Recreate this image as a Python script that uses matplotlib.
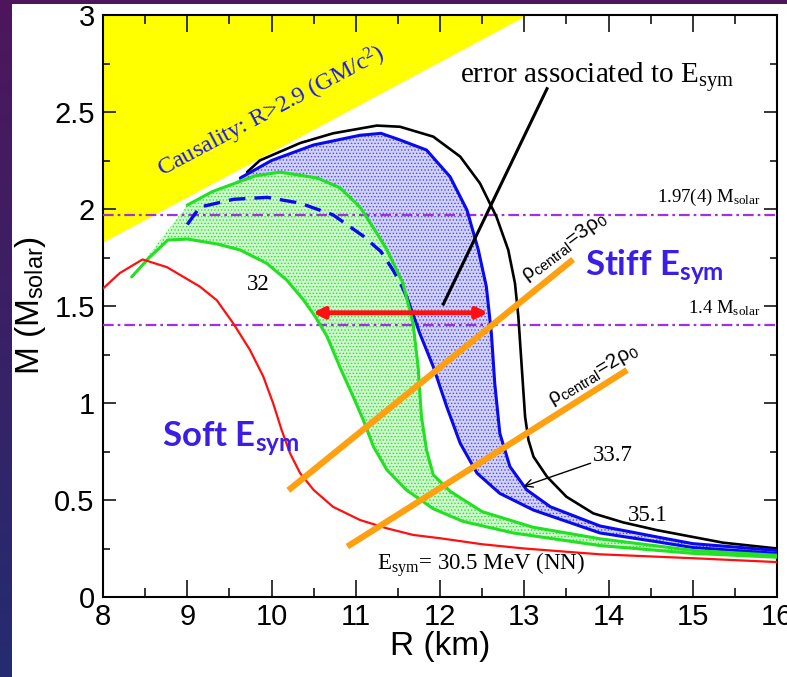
import numpy as np
import matplotlib
matplotlib.use('Agg')
import matplotlib.pyplot as plt
from matplotlib.patches import Rectangle

plt.rcParams['mathtext.fontset'] = 'custom'
plt.rcParams['mathtext.rm'] = 'Liberation Serif'
plt.rcParams['mathtext.it'] = 'Liberation Serif:italic'
plt.rcParams['mathtext.sf'] = 'Liberation Sans'
plt.rcParams['mathtext.bf'] = 'Lato:bold'
plt.rcParams['font.family'] = ['Liberation Sans', 'DejaVu Sans']
plt.rcParams['hatch.linewidth'] = 0.6

# ---------------- data ----------------
causal_R = [8.0, 13.03]
causal_M = [1.83, 3.0]

red_R = [8.0, 8.2, 8.47, 8.76, 9.15, 9.35, 9.547, 9.745, 9.903, 10.02, 10.12, 10.22, 10.34, 10.5,
         10.73, 11.05, 11.37, 11.68, 12.0, 12.5, 13.0, 13.9, 15.0, 16.0]
red_M = [1.59, 1.67, 1.74, 1.70, 1.60, 1.53, 1.41, 1.273, 1.136, 0.998, 0.861, 0.741, 0.638, 0.552,
         0.465, 0.397, 0.354, 0.32, 0.303, 0.272, 0.25, 0.22, 0.20, 0.18]

green_lo_R = [8.34, 8.55, 8.77, 9.0, 9.35, 9.626, 9.943, 10.18, 10.38, 10.52, 10.66, 10.81, 10.97,
              11.09, 11.21, 11.37, 11.6, 11.92, 12.27, 12.87, 13.9, 15.0, 16.0]
green_lo_M = [1.65, 1.75, 1.84, 1.845, 1.82, 1.789, 1.72, 1.634, 1.531, 1.445, 1.342, 1.187, 1.032,
              0.912, 0.775, 0.655, 0.552, 0.455, 0.39, 0.33, 0.265, 0.225, 0.205]

green_hi_R = [9.0, 9.3, 9.55, 9.8, 10.1, 10.54, 10.81, 11.05, 11.2, 11.37, 11.56, 11.68, 11.74,
              11.78, 11.84, 11.92, 12.12, 12.5, 13.1, 13.9, 15.0, 16.0]
green_hi_M = [2.02, 2.09, 2.13, 2.17, 2.19, 2.16, 2.11, 2.01, 1.91, 1.79, 1.617, 1.411, 1.187,
              0.929, 0.758, 0.63, 0.545, 0.44, 0.36, 0.30, 0.24, 0.215]

blue_dash_R = [9.0, 9.15, 9.55, 9.95, 10.34, 10.73, 11.09, 11.3, 11.45, 11.55, 11.62]
blue_dash_M = [1.92, 2.01, 2.05, 2.06, 2.03, 1.97, 1.86, 1.78, 1.68, 1.60, 1.53]

blue_lo_R = [11.62, 11.76, 11.92, 12.08, 12.24, 12.44, 12.71, 13.11, 13.9, 14.57, 15.0, 16.0]
blue_lo_M = [1.53, 1.359, 1.187, 0.981, 0.792, 0.638, 0.534, 0.448, 0.33, 0.285, 0.255, 0.225]

blue_hi_R = [9.63, 10.0, 10.5, 11.05, 11.3, 11.525, 11.84, 12.12, 12.32, 12.455, 12.55, 12.61, 12.65,
             12.71, 12.83, 13.03, 13.31, 13.9, 14.57, 15.0, 16.0]
blue_hi_M = [2.16, 2.25, 2.33, 2.38, 2.39, 2.356, 2.304, 2.166, 1.995, 1.789, 1.60, 1.359, 1.10,
             0.844, 0.672, 0.552, 0.465, 0.366, 0.31, 0.275, 0.24]

black_R = [9.71, 9.86, 10.34, 10.73, 11.25, 11.525, 11.92, 12.24, 12.475, 12.67, 12.81, 12.89, 12.93,
           12.97, 13.01, 13.05, 13.11, 13.27, 13.5, 13.82, 14.17, 14.57, 15.36, 16.0]
black_M = [2.19, 2.25, 2.34, 2.39, 2.43, 2.424, 2.373, 2.27, 2.132, 1.96, 1.789, 1.617, 1.445,
           1.187, 0.929, 0.809, 0.723, 0.62, 0.517, 0.431, 0.385, 0.345, 0.28, 0.25]

obs_masses = [1.97, 1.4]
rho3_R = [10.2, 13.58]
rho3_M = [0.55, 1.74]
rho2_R = [10.9, 14.22]
rho2_M = [0.26, 1.17]
arrow_R = [10.49, 12.57]
arrow_M = 1.465
err_line_R = [13.27, 12.04]
err_line_M = [2.62, 1.51]

x_ticks = [8, 9, 10, 11, 12, 13, 14, 15, 16]
y_ticks = [0, 0.5, 1, 1.5, 2, 2.5, 3]
y_ticklabels = ['0', '0.5', '1', '1.5', '2', '2.5', '3']

# ---------------- figure ----------------
W, H = 787, 677
fig = plt.figure(figsize=(W / 100, H / 100), dpi=100)

bg = fig.add_axes([0, 0, 1, 1], zorder=-10)
grad = np.linspace(0, 1, 256)[:, None]
c_top = np.array([78, 22, 92]) / 255
c_bot = np.array([36, 44, 112]) / 255
img = c_top[None, None, :] * (1 - grad[:, :, None]) + c_bot[None, None, :] * grad[:, :, None]
bg.imshow(img, extent=[0, 1, 0, 1], aspect='auto', origin='upper')
bg.add_patch(Rectangle((12 / W, 0), 1, 1 - 4 / H, facecolor='white', edgecolor='none'))
bg.set_xlim(0, 1)
bg.set_ylim(0, 1)
bg.axis('off')

ax = fig.add_axes([103 / W, 1 - 597 / H, 674 / W, 582 / H])
ax.set_xlim(8, 16)
ax.set_ylim(0, 3)

# causality region
ax.fill_between(causal_R, causal_M, 3, color='#ffff00', linewidth=0, zorder=1)

# blue band
band_b_R = blue_hi_R + blue_lo_R[::-1] + blue_dash_R[::-1]
band_b_M = blue_hi_M + blue_lo_M[::-1] + blue_dash_M[::-1]
ax.fill(band_b_R, band_b_M, facecolor='#d2d2f8', edgecolor='#4a4aee', hatch='.....', linewidth=0, zorder=2)

# green band
band_g_R = green_hi_R + green_lo_R[::-1]
band_g_M = green_hi_M + green_lo_M[::-1]
ax.fill(band_g_R, band_g_M, facecolor='#cdf9cd', edgecolor='#33dd33', hatch='.....', linewidth=0, zorder=3)

# observational lines
for m in obs_masses:
    ax.axhline(m, color='#a030e0', lw=1.6, linestyle=(0, (4.8, 1.8, 1.2, 1.8)), zorder=4)

# curves
kw = dict(solid_joinstyle='round', solid_capstyle='round')
ax.plot(black_R, black_M, color='black', lw=1.9, zorder=5, **kw)
ax.plot(blue_hi_R, blue_hi_M, color='#0a0aee', lw=2.2, zorder=5, **kw)
ax.plot(blue_lo_R, blue_lo_M, color='#0a0aee', lw=2.2, zorder=5, **kw)
ax.plot(blue_dash_R, blue_dash_M, color='#0a0aee', lw=2.4, linestyle=(0, (5, 2.7)), zorder=5)
ax.plot(green_hi_R, green_hi_M, color='#22e022', lw=2.2, zorder=5, **kw)
ax.plot(green_lo_R, green_lo_M, color='#22e022', lw=2.2, zorder=5, **kw)
ax.plot(red_R, red_M, color='#ff1010', lw=1.6, zorder=5, **kw)

# orange lines
ax.plot(rho3_R, rho3_M, color='#ffa010', lw=4.5, solid_capstyle='butt', zorder=7)
ax.plot(rho2_R, rho2_M, color='#ffa010', lw=4.5, solid_capstyle='butt', zorder=7)

# red double arrow
ax.annotate('', xy=(arrow_R[1], arrow_M), xytext=(arrow_R[0], arrow_M),
            arrowprops=dict(arrowstyle='<|-|>', color='#ff1010', lw=3.5,
                            mutation_scale=16, shrinkA=0, shrinkB=0), zorder=8)

# annotation line for error text
ax.plot(err_line_R, err_line_M, color='black', lw=2.2, zorder=8)

# texts
serif = 'Liberation Serif'
ax.text(10.03, 2.47, r'Causality: R>2.9 (GM/c$^{\mathrm{2}}$)', family=serif, fontsize=17.5,
        color='#1a1aee', rotation=28, rotation_mode='anchor', ha='center', va='baseline', zorder=9)
ax.text(12.24, 2.65, r'error associated to E$_{\mathrm{sym}}$', family=serif, fontsize=21,
        ha='left', va='baseline', zorder=9)
ax.text(15.80, 2.035, r'1.97(4) M$_{\mathrm{solar}}$', family=serif, fontsize=13.5,
        ha='right', va='baseline', zorder=9)
ax.text(15.80, 1.46, r'1.4 M$_{\mathrm{solar}}$', family=serif, fontsize=13.5,
        ha='right', va='baseline', zorder=9)
ax.text(9.84, 1.61, '32', family=serif, fontsize=16.5, ha='center', va='center', zorder=9)
ax.text(14.47, 0.42, '35.1', family=serif, fontsize=16.5, ha='center', va='center', zorder=9)
ax.annotate('33.7', xy=(12.99, 0.57), xytext=(13.82, 0.73), family=serif, fontsize=16.5,
            ha='left', va='center', zorder=9,
            arrowprops=dict(arrowstyle='->', color='black', lw=1.0, shrinkA=0, shrinkB=0,
                            mutation_scale=14))
ax.text(11.25, 0.14, r'E$_{\mathrm{sym}}$= 30.5 MeV (NN)', family=serif, fontsize=16.5,
        ha='left', va='baseline', zorder=9)

ax.text(13.03, 1.63, r'ρ$_{\mathsf{central}}$=3ρ$_{\mathsf{0}}$', fontsize=15, rotation=37,
        rotation_mode='anchor', ha='left', va='baseline', zorder=9)
ax.text(13.33, 0.99, r'ρ$_{\mathsf{central}}$=2ρ$_{\mathsf{0}}$', fontsize=15, rotation=31,
        rotation_mode='anchor', ha='left', va='baseline', zorder=9)

ax.text(13.72, 1.66, r'Stiff E$_{\mathbf{sym}}$', family='Lato', fontweight='bold', fontsize=25,
        color='#3a1ee6', ha='left', va='baseline', zorder=9)
ax.text(8.70, 0.78, r'Soft E$_{\mathbf{sym}}$', family='Lato', fontweight='bold', fontsize=25,
        color='#3a1ee6', ha='left', va='baseline', zorder=9)

# axes styling
ax.set_xticks(x_ticks)
ax.set_yticks(y_ticks)
ax.set_yticklabels(y_ticklabels)
ax.set_xticks(np.arange(8.5, 16, 1.0), minor=True)
ax.set_yticks(np.arange(0.25, 3, 0.5), minor=True)
ax.tick_params(which='both', direction='in', top=True, right=True, labelsize=21, width=1.1)
ax.tick_params(axis='x', which='major', length=12, pad=4)
ax.tick_params(axis='x', which='minor', length=6.5)
ax.tick_params(axis='y', which='major', length=9.5, pad=6)
ax.tick_params(axis='y', which='minor', length=5)
for s in ax.spines.values():
    s.set_linewidth(1.5)

ax.set_xlabel('R (km)', fontsize=24, labelpad=0)
ax.set_ylabel(r'M (M$_{\mathsf{solar}}$)', fontsize=24)
ax.yaxis.set_label_coords(-0.082, 0.5)

fig.savefig('out.png', dpi=100)
